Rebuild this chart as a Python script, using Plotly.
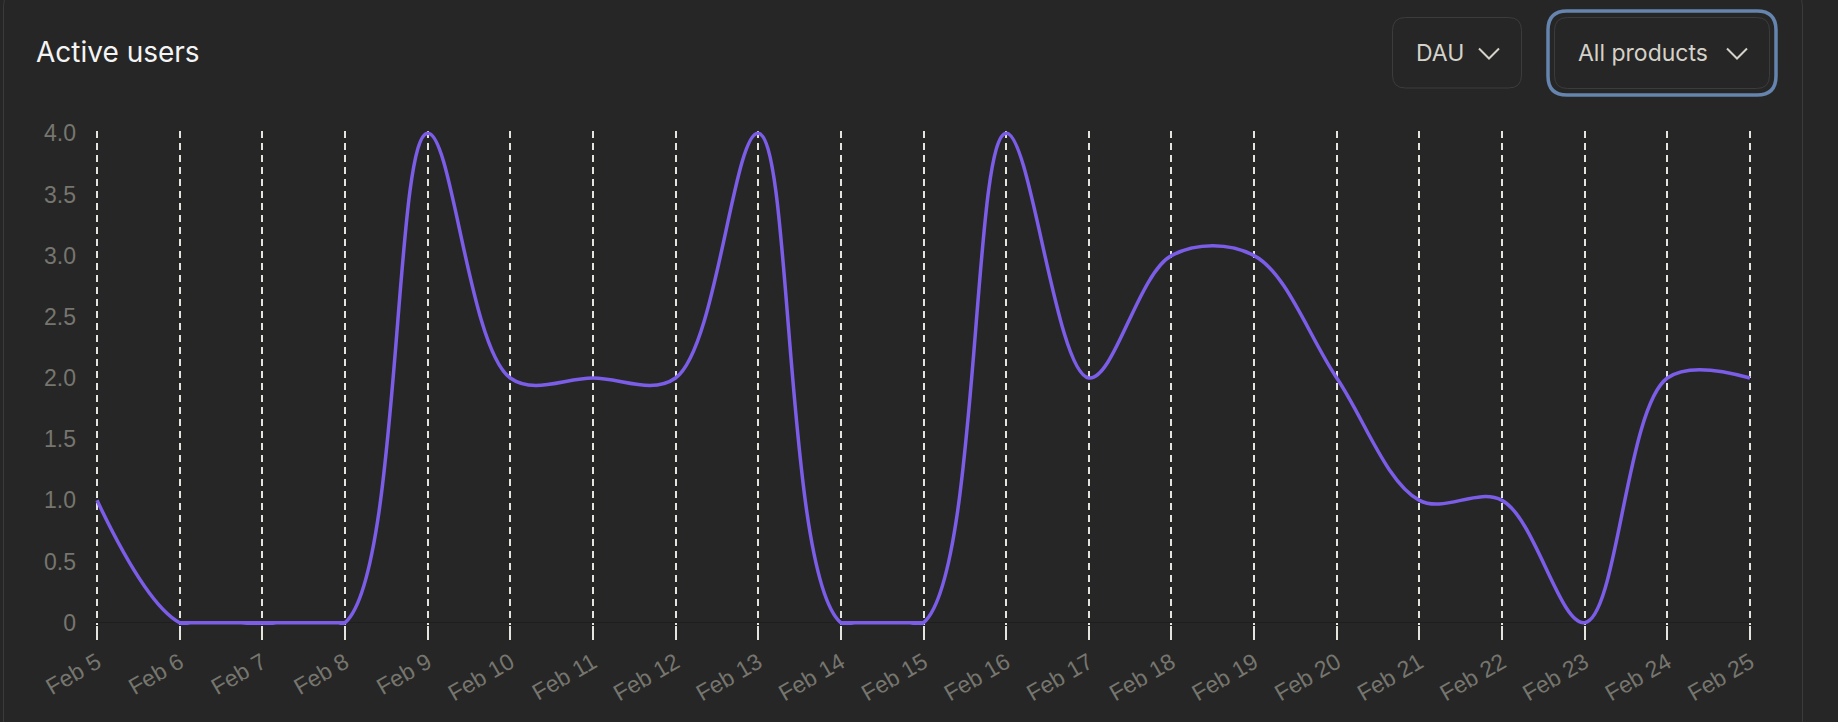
import plotly.graph_objects as go

# ---- data ----
dates = ["Feb 5", "Feb 6", "Feb 7", "Feb 8", "Feb 9", "Feb 10", "Feb 11", "Feb 12",
         "Feb 13", "Feb 14", "Feb 15", "Feb 16", "Feb 17", "Feb 18", "Feb 19",
         "Feb 20", "Feb 21", "Feb 22", "Feb 23", "Feb 24", "Feb 25"]
active_users = [1, 0, 0, 0, 4, 2, 2, 2, 4, 0, 0, 4, 2, 3, 3, 2, 1, 1, 0, 2, 2]
y_tick_vals = [0, 0.5, 1, 1.5, 2, 2.5, 3, 3.5, 4]
y_tick_text = ["0", "0.5", "1.0", "1.5", "2.0", "2.5", "3.0", "3.5", "4.0"]
title_text = "Active users"
metric_label = "DAU"
product_label = "All products"

# ---- layout constants ----
W_TOT, H_TOT = 1838, 722
ML, MR, MT, MB = 95, 86, 131, 97
PW = W_TOT - ML - MR
PH = H_TOT - MT - MB
BG = "#262626"
LINE = "#7c5de8"
GRID = "#e4e4de"
TICKFONT = "#76766f"
BTN_TEXT = "#d4d2c9"


def px(x):
    return (x - ML) / PW


def py(y):
    return (H_TOT - MB - y) / PH


def rrect(x0, y0, x1, y1, r):
    a0, a1 = px(x0), px(x1)
    b0, b1 = py(y0), py(y1)
    rx, ry = r / PW, r / PH
    return (f"M{a0+rx},{b0} L{a1-rx},{b0} Q{a1},{b0} {a1},{b0-ry} "
            f"L{a1},{b1+ry} Q{a1},{b1} {a1-rx},{b1} L{a0+rx},{b1} "
            f"Q{a0},{b1} {a0},{b1+ry} L{a0},{b0-ry} Q{a0},{b0} {a0+rx},{b0} Z")


def chevron(xc, yc, hw, h):
    return (f"M{px(xc-hw)},{py(yc-h/2)} L{px(xc)},{py(yc+h/2)} "
            f"L{px(xc+hw)},{py(yc-h/2)}")


fig = go.Figure()

# The curve is drawn piecewise so that runs resting on zero stay flat
# (the original chart clamps its curve to the plot area; dips below zero
# are clipped by the plot area and covered by the flat pieces).
# (start index, end index inclusive, shape)
pieces = [(0, 2, "spline"), (1, 3, "linear"), (2, 10, "spline"), (9, 10, "linear"),
          (9, 20, "spline")]
for i0, i1, shp in pieces:
    fig.add_trace(go.Scatter(
        x=dates[i0:i1 + 1], y=active_users[i0:i1 + 1], mode="lines",
        line=dict(color=LINE, width=3.5, shape=shp, smoothing=1),
        hoverinfo="x+y",
    ))

shapes = [
    # card border
    dict(type="path", xref="paper", yref="paper", path=rrect(3.5, -8, 1802.5, 760, 14),
         line=dict(color="#3a3a3a", width=1), fillcolor="rgba(0,0,0,0)", layer="below"),
    # DAU box
    dict(type="path", xref="paper", yref="paper", path=rrect(1392.5, 17.5, 1521.5, 88, 13),
         line=dict(color="#3c3c3c", width=1), fillcolor="rgba(0,0,0,0)"),
    # All products focus ring
    dict(type="path", xref="paper", yref="paper", path=rrect(1548, 11, 1776, 95, 19),
         line=dict(color="#6584ae", width=3.5), fillcolor="rgba(0,0,0,0)"),
    # All products box
    dict(type="path", xref="paper", yref="paper", path=rrect(1554.5, 17.5, 1769.5, 88.5, 13),
         line=dict(color="#3c3c3c", width=1), fillcolor="rgba(0,0,0,0)"),
    # chevrons
    dict(type="path", xref="paper", yref="paper", path=chevron(1489, 53.5, 10, 10),
         line=dict(color=BTN_TEXT, width=2)),
    dict(type="path", xref="paper", yref="paper", path=chevron(1737, 53.5, 10, 10),
         line=dict(color=BTN_TEXT, width=2)),
]

annotations = [
    dict(text=metric_label, xref="paper", yref="paper", x=px(1414), y=py(53),
         xanchor="left", yanchor="middle", showarrow=False,
         font=dict(family="Inter", size=23, color=BTN_TEXT)),
    dict(text=product_label, xref="paper", yref="paper", x=px(1576), y=py(53),
         xanchor="left", yanchor="middle", showarrow=False,
         font=dict(family="Inter", size=23, color=BTN_TEXT)),
]

x_scale = 1653 / 20.0
x0 = -(97 - ML) / x_scale
x1 = x0 + PW / x_scale
y_scale = 122.35
y0 = -((H_TOT - MB) - 622.7) / y_scale
y1 = y0 + PH / y_scale

fig.update_layout(
    width=W_TOT, height=H_TOT,
    margin=dict(l=ML, r=MR, t=MT, b=MB, pad=0),
    paper_bgcolor=BG, plot_bgcolor=BG,
    showlegend=False,
    title=dict(text=title_text, x=36 / W_TOT, xanchor="left", xref="container",
               y=1 - 52.5 / H_TOT, yanchor="middle", yref="container",
               font=dict(family="Inter", size=28, color="#f4f4f4")),
    shapes=shapes,
    annotations=annotations,
    xaxis=dict(
        type="category", range=[x0, x1],
        showgrid=True, gridcolor=GRID, gridwidth=2, griddash="7px,5px",
        ticks="outside", ticklen=14, tickwidth=2, tickcolor=GRID,
        tickangle=-30, showline=False, zeroline=False,
        tickfont=dict(family="Liberation Sans", size=23, color=TICKFONT),
    ),
    yaxis=dict(
        range=[y0, y1], tickvals=y_tick_vals, ticktext=y_tick_text,
        showgrid=False, zeroline=True, zerolinecolor="#1e1e1e", zerolinewidth=1,
        showline=False, ticks="", ticklabelstandoff=18,
        tickfont=dict(family="Liberation Sans", size=23, color=TICKFONT),
    ),
)

fig.write_html("out.html")
